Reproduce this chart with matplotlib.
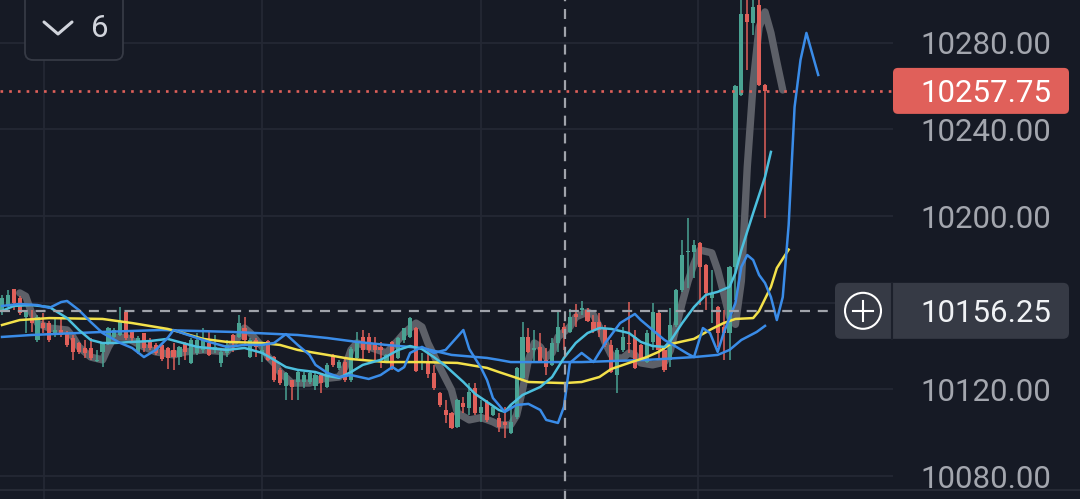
import matplotlib
matplotlib.use("Agg")
import matplotlib.pyplot as plt
from matplotlib.patches import FancyBboxPatch, Circle
import numpy as np

# candle data
opens = [10156.6, 10158.9, 10166.3, 10162.2, 10153.4, 10152.9, 10142.8, 10150.6, 10150.6, 10146.0,
         10147.4, 10146.0, 10143.7, 10141.4, 10139.1, 10139.1, 10133.1, 10137.3, 10141.4, 10144.2,
         10145.1, 10155.7, 10146.9, 10137.3, 10146.0, 10142.8, 10140.5, 10140.5, 10139.1, 10138.2,
         10134.9, 10141.4, 10132.2, 10136.8, 10138.2, 10141.4, 10138.2, 10132.2, 10136.8, 10145.1,
         10144.2, 10148.3, 10134.9, 10142.8, 10136.8, 10142.3, 10134.9, 10129.0, 10121.6, 10124.3,
         10123.4, 10123.4, 10123.4, 10121.6, 10126.6, 10121.1, 10135.9, 10129.9, 10132.6, 10124.3,
         10134.5, 10144.2, 10144.2, 10141.4, 10139.6, 10132.6, 10141.9, 10134.5, 10142.8, 10144.2,
         10148.3, 10132.2, 10132.6, 10127.6, 10118.3, 10110.5, 10109.1, 10102.6, 10113.7, 10111.4,
         10120.6, 10109.1, 10114.2, 10108.2, 10106.8, 10104.9, 10099.9, 10107.3, 10125.3, 10144.2,
         10138.2, 10139.6, 10133.6, 10131.3, 10141.4, 10148.8, 10146.5, 10154.8, 10156.6, 10156.6,
         10151.1, 10151.1, 10148.3, 10140.5, 10126.6, 10138.2, 10140.9, 10144.2, 10140.5, 10132.6,
         10141.9, 10155.3, 10138.2, 10133.6, 10149.7, 10165.9, 10183.4, 10183.4, 10187.6, 10177.4,
         10162.2, 10158.0, 10148.8, 10146.0, 10176.5, 10255.9, 10293.2, 10289.1, 10297.4, 10260.5]
highs = [10163.6, 10165.9, 10166.5, 10163.1, 10156.6, 10156.6, 10154.3, 10155.3, 10151.5, 10152.9,
         10153.4, 10147.0, 10145.1, 10142.0, 10142.8, 10143.7, 10138.2, 10142.0, 10149.0, 10148.5,
         10158.0, 10156.0, 10147.0, 10144.5, 10146.2, 10143.5, 10141.5, 10141.0, 10139.6, 10141.4,
         10140.0, 10141.9, 10143.5, 10146.0, 10148.3, 10146.5, 10145.1, 10139.1, 10142.8, 10145.5,
         10154.3, 10153.4, 10143.5, 10143.7, 10141.4, 10143.0, 10135.5, 10130.0, 10128.0, 10124.5,
         10129.0, 10128.0, 10128.5, 10128.0, 10127.0, 10132.0, 10136.5, 10133.5, 10134.9, 10139.5,
         10146.5, 10147.4, 10146.0, 10144.2, 10141.9, 10136.5, 10142.5, 10144.2, 10148.5, 10153.5,
         10149.0, 10136.8, 10139.1, 10131.3, 10119.0, 10115.1, 10109.5, 10115.5, 10116.5, 10122.9,
         10122.9, 10115.1, 10115.0, 10113.0, 10109.1, 10111.9, 10112.8, 10130.5, 10151.1, 10148.3,
         10147.4, 10146.0, 10139.1, 10143.7, 10155.7, 10150.6, 10157.1, 10159.4, 10160.8, 10157.6,
         10154.3, 10155.3, 10149.7, 10142.8, 10139.1, 10148.8, 10160.3, 10147.4, 10141.0, 10147.4,
         10159.9, 10155.5, 10139.0, 10157.6, 10166.5, 10188.9, 10199.1, 10188.9, 10188.0, 10177.8,
         10175.1, 10158.5, 10156.6, 10177.0, 10260.5, 10305.0, 10305.0, 10305.0, 10305.0, 10261.0]
lows = [10154.3, 10158.0, 10156.6, 10154.3, 10146.0, 10146.5, 10141.9, 10146.0, 10142.0, 10144.2,
        10144.2, 10139.5, 10133.6, 10136.5, 10134.5, 10133.6, 10132.6, 10130.3, 10140.5, 10143.5,
        10144.5, 10142.8, 10141.9, 10136.5, 10137.3, 10138.0, 10136.0, 10133.0, 10129.4, 10129.0,
        10131.3, 10133.6, 10131.5, 10135.9, 10136.8, 10135.5, 10136.8, 10130.3, 10134.9, 10137.3,
        10143.7, 10140.5, 10134.5, 10134.9, 10132.6, 10133.0, 10123.5, 10122.0, 10115.1, 10115.1,
        10115.1, 10120.6, 10122.5, 10119.7, 10118.3, 10120.5, 10130.5, 10129.0, 10123.4, 10123.5,
        10134.0, 10133.6, 10136.8, 10133.6, 10129.9, 10132.0, 10129.0, 10134.0, 10141.4, 10143.5,
        10128.0, 10129.0, 10125.3, 10119.7, 10112.0, 10104.5, 10101.5, 10102.0, 10109.1, 10108.2,
        10108.2, 10104.9, 10105.0, 10107.5, 10100.3, 10097.6, 10099.5, 10106.5, 10125.0, 10137.0,
        10132.2, 10132.0, 10126.6, 10131.0, 10137.3, 10138.2, 10146.0, 10148.8, 10154.3, 10151.1,
        10146.0, 10144.2, 10139.6, 10127.6, 10118.3, 10137.3, 10136.8, 10129.5, 10133.0, 10132.2,
        10138.2, 10133.6, 10128.0, 10130.3, 10149.0, 10165.0, 10166.8, 10171.4, 10158.9, 10156.6,
        10150.6, 10139.6, 10133.6, 10133.6, 10161.2, 10255.5, 10267.4, 10283.5, 10260.0, 10199.1]
closes = [10162.2, 10163.6, 10159.9, 10155.3, 10155.7, 10150.6, 10153.4, 10148.3, 10142.8, 10147.4,
          10145.1, 10140.5, 10137.3, 10137.3, 10136.8, 10134.5, 10133.6, 10141.9, 10148.3, 10147.4,
          10151.1, 10143.7, 10143.7, 10143.7, 10139.1, 10139.1, 10136.8, 10134.0, 10134.5, 10134.9,
          10139.6, 10137.3, 10142.8, 10142.8, 10143.7, 10135.9, 10139.6, 10137.3, 10140.5, 10141.4,
          10150.6, 10142.8, 10142.8, 10139.6, 10138.2, 10133.6, 10124.3, 10122.9, 10127.6, 10121.1,
          10128.0, 10126.6, 10127.6, 10126.6, 10122.9, 10131.3, 10131.3, 10132.6, 10124.3, 10138.7,
          10141.9, 10138.2, 10138.2, 10138.2, 10138.2, 10135.9, 10129.9, 10143.7, 10148.3, 10152.9,
          10128.5, 10132.6, 10127.1, 10120.6, 10112.8, 10108.2, 10102.2, 10115.1, 10111.9, 10118.8,
          10109.1, 10111.9, 10105.9, 10111.9, 10102.6, 10103.6, 10104.9, 10129.9, 10144.2, 10137.3,
          10139.1, 10132.2, 10130.3, 10141.4, 10148.8, 10146.0, 10153.4, 10153.4, 10157.6, 10151.6,
          10147.4, 10147.4, 10140.5, 10128.0, 10138.2, 10144.2, 10140.5, 10129.9, 10133.6, 10146.0,
          10155.7, 10138.2, 10129.0, 10149.7, 10165.9, 10182.0, 10183.9, 10186.6, 10176.5, 10164.5,
          10164.5, 10146.0, 10146.0, 10176.5, 10260.0, 10293.2, 10289.5, 10296.5, 10260.5, 10257.75]

# indicator lines: bar index -> value
gray_x = [3, 4, 5, 6, 8, 11, 12, 13, 15, 17, 18, 19, 21, 23, 24, 26, 29, 31, 34, 38, 40, 41, 42, 44,
          45, 46, 47, 49, 52, 54, 57, 58, 59, 60, 62, 65, 67, 68, 70, 71, 72, 74, 76, 77, 79, 81, 83,
          84, 86, 87, 88, 89, 90, 91, 92, 93, 94, 96, 97, 99, 100, 101, 102, 103, 104, 105, 106, 107,
          108, 110, 112, 113, 115, 116, 117, 118, 120, 121, 122, 123, 124, 125, 126, 127, 128, 129,
          130, 131, 132]
gray_y = [10164.5, 10163.0, 10155.3, 10150.6, 10148.3, 10147.4, 10144.2, 10139.6, 10134.9, 10133.6,
          10139.6, 10144.2, 10144.0, 10141.0, 10139.6, 10137.3, 10135.9, 10137.3, 10138.2, 10137.3,
          10144.2, 10148.3, 10146.0, 10139.6, 10134.9, 10132.2, 10128.0, 10122.9, 10122.9, 10124.8,
          10125.7, 10130.3, 10138.2, 10141.4, 10139.6, 10136.8, 10142.8, 10146.0, 10150.6, 10148.8,
          10141.4, 10130.3, 10119.7, 10109.1, 10105.9, 10107.0, 10105.0, 10103.6, 10103.6, 10108.0,
          10119.7, 10133.6, 10141.4, 10139.6, 10134.9, 10136.8, 10144.2, 10148.8, 10153.4, 10155.7,
          10154.3, 10148.8, 10141.4, 10135.9, 10134.5, 10134.5, 10136.8, 10135.9, 10132.2, 10131.3,
          10132.6, 10138.0, 10159.9, 10170.0, 10178.0, 10184.3, 10183.0, 10175.1, 10164.5, 10153.4,
          10150.0, 10170.0, 10222.6, 10261.4, 10287.2, 10294.2, 10284.5, 10271.0, 10258.2]

cyan_x = [0, 2, 5, 8, 11, 13, 15, 17, 19, 22, 25, 28, 33, 38, 41, 44, 46, 48, 50, 53, 55, 57, 59,
          61, 64, 67, 69, 71, 73, 75, 78, 80, 82, 84, 85, 86, 88, 91, 93, 95, 97, 99, 101, 103, 106,
          108, 110, 112, 113, 115, 117, 119, 121, 123, 124, 125, 127, 129, 130]
cyan_y = [10156.2, 10158.5, 10158.9, 10158.0, 10152.9, 10147.4, 10142.8, 10141.4, 10141.4, 10141.9,
          10142.3, 10143.3, 10139.6, 10138.2, 10139.1, 10136.8, 10133.6, 10130.3, 10129.0, 10128.0,
          10126.2, 10125.3, 10128.0, 10131.3, 10133.6, 10138.2, 10140.0, 10138.6, 10134.9, 10130.8,
          10123.4, 10117.9, 10114.2, 10110.5, 10109.6, 10112.8, 10117.4, 10121.1, 10125.7, 10134.5,
          10141.4, 10146.0, 10148.3, 10147.9, 10146.0, 10141.9, 10140.0, 10139.6, 10142.3, 10150.6,
          10158.0, 10163.6, 10165.0, 10167.3, 10173.7, 10184.3, 10201.4, 10218.0, 10229.6]

yellow_x = [0, 3, 8, 17, 22, 28, 30, 34, 38, 44, 47, 50, 55, 59, 65, 71, 77, 82, 84, 87, 89, 95,
            98, 101, 103, 106, 109, 111, 113, 117, 120, 122, 124, 127, 128, 130, 131, 133]
yellow_y = [10149.7, 10152.0, 10152.9, 10152.5, 10150.6, 10147.9, 10146.5, 10143.3, 10141.9, 10141.4,
            10140.5, 10138.2, 10135.9, 10134.0, 10132.6, 10132.6, 10132.2, 10129.9, 10128.0, 10125.3,
            10123.4, 10122.9, 10123.4, 10125.7, 10129.4, 10132.2, 10134.9, 10137.3, 10140.9, 10143.3,
            10147.9, 10150.6, 10152.5, 10152.9, 10156.2, 10167.3, 10176.0, 10184.5]

blue_x = [0, 5, 17, 27, 39, 50, 55, 60, 65, 71, 76, 82, 84, 86, 98, 109, 117, 121, 123, 125, 127.6, 129]
blue_y = [10144.2, 10145.1, 10146.5, 10147.4, 10146.5, 10145.1, 10143.7, 10141.9, 10140.5, 10139.1,
          10135.9, 10134.5, 10133.6, 10132.6, 10132.6, 10133.6, 10134.9, 10135.9, 10138.2, 10142.8,
          10146.5, 10149.3]

lead_x = [0, 3, 6, 8, 10, 11, 13, 15, 17, 20, 22, 24, 26, 28, 29, 31, 35, 38, 41, 44, 46, 48, 50,
          52, 53, 55, 57, 59, 62, 64, 66, 67, 68, 69, 71, 73, 75, 78, 79, 81, 82, 83, 85, 87, 89,
          91, 92, 94, 95, 96, 98, 100, 102, 104.5, 107, 108, 110, 112, 114, 116, 117, 118.5, 119.7,
          121, 122, 124, 125, 126, 127, 128, 129, 130, 131, 132, 133, 134, 135, 136, 138]
lead_y = [10158.5, 10159.4, 10158.9, 10157.6, 10160.3, 10160.8, 10156.6, 10151.1, 10146.0, 10141.4,
          10139.1, 10134.9, 10138.2, 10143.7, 10147.4, 10145.5, 10141.9, 10139.6, 10140.5, 10140.5,
          10141.4, 10145.5, 10140.5, 10135.9, 10131.3, 10127.6, 10125.7, 10126.6, 10124.8, 10126.6,
          10130.3, 10128.5, 10130.3, 10136.8, 10139.6, 10136.8, 10138.2, 10147.4, 10138.6, 10129.9,
          10124.3, 10116.0, 10109.6, 10112.8, 10113.3, 10110.5, 10105.9, 10104.5, 10111.9, 10132.2,
          10136.8, 10132.6, 10141.4, 10150.6, 10154.8, 10152.0, 10147.4, 10142.8, 10139.6, 10136.3,
          10134.9, 10148.3, 10146.0, 10137.3, 10146.0, 10159.9, 10176.5, 10182.0, 10179.7, 10172.8,
          10169.1, 10162.6, 10152.0, 10162.6, 10195.9, 10250.3, 10272.0, 10284.5, 10265.1]

price_ticks = [10080, 10120, 10160, 10200, 10240, 10280]
tick_labels = ['10080.00', '10120.00', '', '10200.00', '10240.00', '10280.00']  # 10160 hidden by crosshair label
time_grid = [7.1, 44.0, 80.9, 117.7]
cross_bar = 95.2
cross_price = 10156.25

bg = '#161a25'
up_col = '#4aa393'
down_col = '#e0605a'
ymin, ymax = 10069.4, 10299.7

fig = plt.figure(figsize=(10.8, 4.99), dpi=100, facecolor=bg)
ax = fig.add_axes([0, 0, 893 / 1080, 1])
ax.set_facecolor(bg)
ax.set_xlim(-0.34, 150.64)
ax.set_ylim(ymin, ymax)
for s in ax.spines.values():
    s.set_visible(False)

ax.set_yticks(price_ticks)
ax.set_yticklabels(tick_labels)
ax.set_xticks(time_grid)
ax.set_xticklabels([])
ax.yaxis.tick_right()
ax.tick_params(axis='both', length=0)
ax.tick_params(axis='y', pad=19.5, labelsize=22.5, labelcolor='#a3a6ae')
for lab in ax.get_yticklabels():
    lab.set_family('Roboto')
ax.grid(True, color='#242834', lw=1.3)
ax.set_axisbelow(True)

idx = np.arange(len(closes))
o = np.array(opens)
c = np.array(closes)
cols = [up_col if cc >= oo else down_col for oo, cc in zip(o, c)]

ax.plot(gray_x, gray_y, color='#5d6068', lw=5.3, solid_capstyle='round', zorder=1)
ax.vlines(idx, lows, highs, colors=cols, lw=1.1, zorder=2)
body = np.where(np.abs(c - o) < 0.5, 0.5, c - o)
ax.bar(idx, body, bottom=o, width=0.7, color=cols, zorder=3)

ax.plot(blue_x, blue_y, color='#3a8ce8', lw=1.8, zorder=4)
ax.plot(yellow_x, yellow_y, color='#f3e14a', lw=1.8, zorder=4)
ax.plot(cyan_x, cyan_y, color='#4cc0de', lw=1.8, zorder=4)
ax.plot(lead_x, lead_y, color='#3a8ce8', lw=1.8, zorder=4)

last = closes[-1]
ax.axhline(last, color=down_col, lw=1.9, ls=(0, (1, 2.3)), zorder=5)
ax.axhline(cross_price, color='#a0a3ab', lw=1.6, ls=(0, (4.5, 3.5)), zorder=5)
ax.axvline(cross_bar, color='#a0a3ab', lw=1.6, ls=(0, (4.5, 3.5)), zorder=5)

# overlay in pixel units for the price-scale labels and the top-left button
ui = fig.add_axes([0, 0, 1, 1], zorder=5)
ui.set_xlim(0, 1080)
ui.set_ylim(499, 0)
ui.axis('off')
ui.patch.set_alpha(0)


def py(p):
    return 499 * (ymax - p) / (ymax - ymin)


ui.plot([0, 1080], [490, 490], color='#2a2e39', lw=1.2)

y_last = py(last)
ui.add_patch(FancyBboxPatch((893, y_last - 23), 176, 46,
                            boxstyle='round,pad=0,rounding_size=5', fc=down_col, ec='none'))
ui.text(920, y_last, '%.2f' % last, color='white', fontsize=22.5, family='Roboto',
        ha='left', va='center_baseline')

y_cr = py(cross_price)
ui.add_patch(FancyBboxPatch((835, y_cr - 28), 234, 56,
                            boxstyle='round,pad=0,rounding_size=6', fc='#363a45', ec='none'))
ui.plot([892, 892], [y_cr - 28, y_cr + 28], color='#1c202b', lw=1.5)
ui.add_patch(Circle((863, y_cr), 18, fill=False, ec='white', lw=1.5))
ui.plot([853, 873], [y_cr, y_cr], color='white', lw=1.5)
ui.plot([863, 863], [y_cr - 10, y_cr + 10], color='white', lw=1.5)
ui.text(920, y_cr, '%.2f' % cross_price, color='#f0f2f5', fontsize=22.5, family='Roboto',
        ha='left', va='center_baseline')

ui.add_patch(FancyBboxPatch((25, -20), 98, 80, boxstyle='round,pad=0,rounding_size=8',
                            fc=bg, ec='#363a45', lw=1.3))
ui.plot([44, 58, 72], [22, 34, 22], color='#d1d4dc', lw=2.2, solid_capstyle='round')
ui.text(100, 37, '6', color='#d1d4dc', fontsize=22.5, family='Roboto', ha='center', va='baseline')

fig.savefig('out.png', dpi=100, facecolor=bg)
